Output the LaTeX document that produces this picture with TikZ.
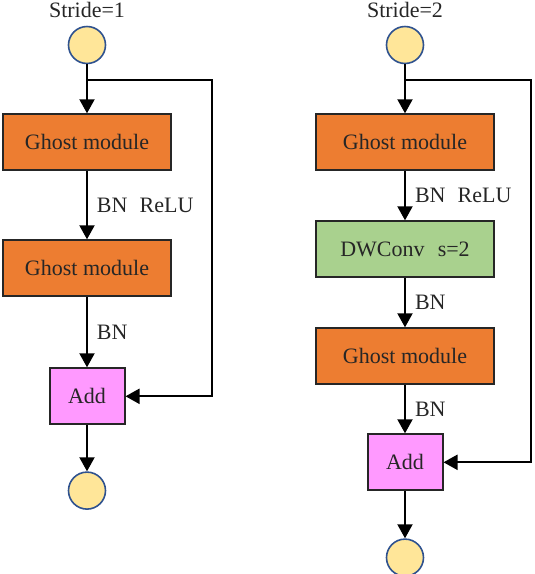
\documentclass[tikz,border=0pt]{standalone}
\usepackage{fontspec}
\setmainfont{Liberation Serif}
\usetikzlibrary{arrows.meta,positioning}
\definecolor{ghostorange}{HTML}{ED7D31}
\definecolor{convgreen}{HTML}{A9D18E}
\definecolor{addpink}{HTML}{FF99FF}
\definecolor{iofill}{HTML}{FFE699}
\definecolor{ioline}{HTML}{2F528F}
\definecolor{txt}{HTML}{262626}
\tikzset{
  >={Triangle[width=7.5pt,length=7pt]},
  io/.style={circle,draw=ioline,line width=0.8pt,fill=iofill,minimum size=18.5pt,inner sep=0pt},
  ghost/.style={rectangle,draw=black!85,line width=1pt,fill=ghostorange,minimum width=84pt,minimum height=28pt,inner sep=0pt,text=txt},
  dwconv/.style={ghost,fill=convgreen},
  addbox/.style={rectangle,draw=black!85,line width=1pt,fill=addpink,minimum width=37.5pt,minimum height=28pt,inner sep=0pt,text=txt},
  lbl/.style={right,inner sep=0pt,xshift=4.5pt,text=txt},
  title/.style={inner sep=0pt,text=txt}
}

\begin{document}
\begin{tikzpicture}[font=\fontsize{11}{13}\selectfont, line width=1pt, node distance=24.5pt]
  \useasboundingbox (0,0) rectangle (267.5pt,-287pt);
  % stride 1
  \node[io] (in_1) at (43.5pt,-22.5pt) {};
  \node[title] (s_1) [above=3.5pt of in_1] {Stride=1};
  \node[ghost] (g_1) [below=of in_1] {Ghost module};
  \node[ghost] (g_2) [below=34pt of g_1] {Ghost module};
  \node[addbox] (add_1) [below=35pt of g_2] {Add};
  \node[io] (out_1) [below=23pt of add_1] {};
  \coordinate[below=8pt of in_1] (br_1);
  \coordinate[right=62.5pt of br_1] (sk_1);
  \path[->]
  (in_1) edge (g_1)
  (g_1) edge node[lbl] {BN\hspace{0.55em}ReLU} (g_2)
  (g_2) edge node[lbl] {BN} (add_1)
  (add_1) edge (out_1);
  \draw[->] (br_1) -- (sk_1) |- (add_1);
  % stride 2
  \node[io] (in_2) at (202.5pt,-22.5pt) {};
  \node[title] (s_2) [above=3.5pt of in_2] {Stride=2};
  \node[ghost,minimum width=89pt] (g_3) [below=of in_2] {Ghost module};
  \node[dwconv,minimum width=89pt] (dw) [below=of g_3] {DWConv\hspace{0.6em}s=2};
  \node[ghost,minimum width=89pt] (g_4) [below=of dw] {Ghost module};
  \node[addbox] (add_2) [below=24pt of g_4] {Add};
  \node[io] (out_2) [below=23.5pt of add_2] {};
  \coordinate[below=8pt of in_2] (br_2);
  \coordinate[right=63pt of br_2] (sk_2);
  \path[->]
  (in_2) edge (g_3)
  (g_3) edge node[lbl] {BN\hspace{0.55em}ReLU} (dw)
  (dw) edge node[lbl] {BN} (g_4)
  (g_4) edge node[lbl] {BN} (add_2)
  (add_2) edge (out_2);
  \draw[->] (br_2) -- (sk_2) |- (add_2);
\end{tikzpicture}
\end{document}
